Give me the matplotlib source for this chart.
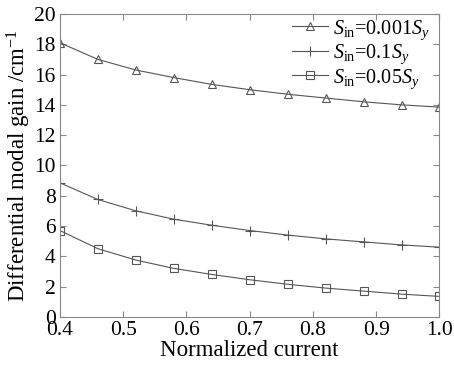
import matplotlib
matplotlib.use('Agg')
import matplotlib.pyplot as plt

plt.rcParams['font.family'] = 'Liberation Serif'
plt.rcParams['mathtext.fontset'] = 'custom'
plt.rcParams['mathtext.rm'] = 'Liberation Serif'
plt.rcParams['mathtext.it'] = 'Liberation Serif:italic'

current = [0.40, 0.46, 0.52, 0.58, 0.64, 0.70, 0.76, 0.82, 0.88, 0.94, 1.00]
gain_0001 = [18.1, 17.0, 16.3, 15.8, 15.35, 15.0, 14.7, 14.45, 14.2, 14.0, 13.85]
gain_01 = [8.85, 7.75, 7.0, 6.45, 6.05, 5.7, 5.4, 5.15, 4.95, 4.75, 4.6]
gain_005 = [5.7, 4.5, 3.75, 3.2, 2.8, 2.45, 2.15, 1.9, 1.7, 1.5, 1.35]

labels = [r'$S_{\rm in}$=0.001$S_y$', r'$S_{\rm in}$=0.1$S_y$', r'$S_{\rm in}$=0.05$S_y$']

fig, ax = plt.subplots(figsize=(4.54, 3.68), dpi=100)
c = '#555555'
ax.plot(current, gain_0001, color=c, lw=0.8, marker='^', mfc='none', ms=6, mew=0.8, label=labels[0])
ax.plot(current, gain_01, color=c, lw=0.8, marker='+', ms=7, mew=0.8, label=labels[1])
ax.plot(current, gain_005, color=c, lw=0.8, marker='s', mfc='none', ms=6, mew=0.8, label=labels[2])

ax.set_xlim(0.4, 1.0)
ax.set_ylim(0, 20)
ax.set_xticks([0.4, 0.5, 0.6, 0.7, 0.8, 0.9, 1.0])
ax.set_yticks(range(0, 21, 2))
ax.tick_params(direction='in', top=True, right=True, labelsize=15.5, length=4, color='#888888')
ax.tick_params(axis='x', pad=3)
ax.tick_params(axis='y', pad=3)
for s in ax.spines.values():
    s.set_color('#888888')
ax.set_xlabel('Normalized current', fontsize=16.5, labelpad=0)
ax.set_ylabel(r'Differential modal gain /cm$^{-1}$', fontsize=16.5, labelpad=1)
ax.legend(loc='upper right', frameon=False, fontsize=14.5, handlelength=1.8,
          labelspacing=0.05, borderaxespad=0.0, borderpad=0.2, handletextpad=0.25,
          bbox_to_anchor=(0.985, 1.0))

fig.subplots_adjust(left=0.132, right=0.968, top=0.962, bottom=0.139)
fig.savefig('out.png')
